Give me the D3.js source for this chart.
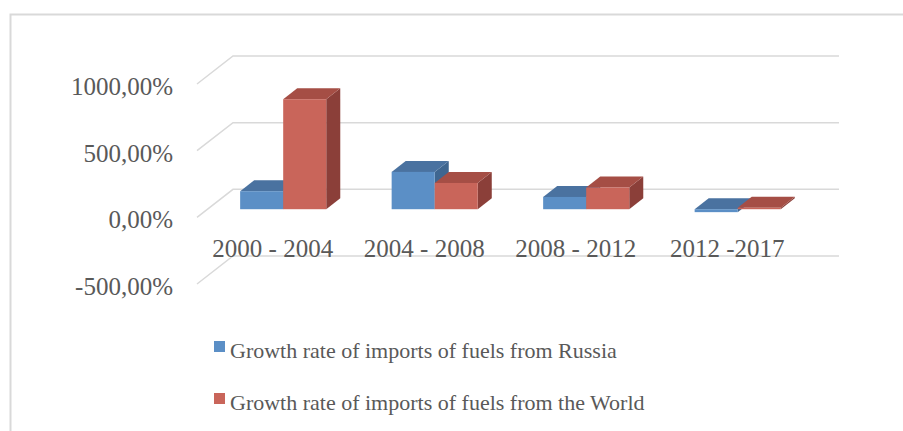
<!DOCTYPE html>
<html>
<head>
<meta charset="utf-8">
<script src="https://cdn.jsdelivr.net/npm/d3@7"></script>
<style>
  body { margin: 0; background: #fff; }
  svg text { font-family: "Liberation Serif", serif; fill: #595959; }
</style>
</head>
<body>
<script>
// data (percent)
var categories = ["2000 - 2004", "2004 - 2008", "2008 - 2012", "2012 -2017"];
var russia = [135, 280, 92, -22];
var world = [825, 197, 163, 11];
var seriesNames = [
  "Growth rate of imports of fuels from Russia",
  "Growth rate of imports of fuels from the World"
];
var yTicks = [-500, 0, 500, 1000];

var w = 903, h = 431;
var depthX = 36, depthY = -28;   // side wall depth
var barFront = 0.29, barBack = 0.68; // where the bars sit in the depth

var colors = [
  { front: "#5b8fc6", top: "#4a72a0", side: "#3f6690" },
  { front: "#c9655a", top: "#a54e45", side: "#8b3f39" }
];

var svg = d3.select("body").append("svg")
  .attr("width", w)
  .attr("height", h);

// outer frame (only top and left visible)
svg.append("path")
  .attr("d", "M10.5," + h + " L10.5,14.5 L" + w + ",14.5")
  .attr("fill", "none")
  .attr("stroke", "#d9d9d9")
  .attr("stroke-width", 2);

var x = d3.scaleBand()
  .domain(categories)
  .range([197, 803]);

var xs = d3.scaleBand()
  .domain([0, 1])
  .range([0, x.bandwidth()])
  .paddingOuter(0.76);

var y = d3.scaleLinear()
  .domain([-500, 1000])
  .range([284, 84]);

// project a point with depth d (0 = front, 1 = back wall)
function pt(px, py, d) {
  return [px + d * depthX, py + d * depthY];
}
function poly(points) {
  return "M" + points.map(function(p) { return p[0] + "," + p[1]; }).join("L") + "Z";
}

// gridlines: side wall diagonal + back wall
var grid = svg.append("g");
yTicks.forEach(function(t) {
  var a = pt(x.range()[0], y(t), 0);
  var b = pt(x.range()[0], y(t), 1);
  var c = pt(x.range()[1], y(t), 1);
  grid.append("path")
    .attr("d", "M" + a + "L" + b + "L" + c)
    .attr("fill", "none")
    .attr("stroke", "#d9d9d9")
    .attr("stroke-width", 1.5);
});

// y tick labels
svg.append("g")
  .selectAll("text")
  .data(yTicks)
  .enter()
  .append("text")
  .attr("x", 173)
  .attr("y", function(d) { return y(d) + 11; })
  .attr("text-anchor", "end")
  .attr("font-size", "25px")
  .text(function(d) {
    return d3.format(".2f")(d).replace(".", ",").replace("\u2212", "-") + "%";
  });

// bars
var values = [russia, world];
var bars = svg.append("g");
categories.forEach(function(cat, i) {
  [0, 1].forEach(function(s) {
    var v = values[s][i];
    var x0 = x(cat) + xs(s);
    var x1 = x0 + xs.bandwidth();
    var yt = y(Math.max(v, 0));
    var yb = y(Math.min(v, 0));
    var col = colors[s];
    // side
    bars.append("path")
      .attr("d", poly([pt(x1, yt, barFront), pt(x1, yt, barBack), pt(x1, yb, barBack), pt(x1, yb, barFront)]))
      .attr("fill", col.side);
    // top
    bars.append("path")
      .attr("d", poly([pt(x0, yt, barFront), pt(x0, yt, barBack), pt(x1, yt, barBack), pt(x1, yt, barFront)]))
      .attr("fill", col.top);
    // front
    var f0 = pt(x0, yt, barFront);
    bars.append("rect")
      .attr("x", f0[0])
      .attr("y", f0[1])
      .attr("width", xs.bandwidth())
      .attr("height", Math.max(yb - yt, 0.5))
      .attr("fill", col.front);
  });
});

// category labels
svg.append("g")
  .selectAll("text")
  .data(categories)
  .enter()
  .append("text")
  .attr("x", function(d) { return x(d) + x.bandwidth() / 2; })
  .attr("y", 257)
  .attr("text-anchor", "middle")
  .attr("font-size", "25px")
  .text(function(d) { return d; });

// legend
var legend = svg.append("g")
  .selectAll("g")
  .data(seriesNames)
  .enter()
  .append("g")
  .attr("transform", function(d, i) { return "translate(214," + (341 + i * 52) + ")"; });

legend.append("rect")
  .attr("width", 11)
  .attr("height", 11)
  .attr("fill", function(d, i) { return colors[i].front; });

legend.append("text")
  .attr("x", 16)
  .attr("y", 17)
  .attr("font-size", "22px")
  .text(function(d) { return d; });
</script>
</body>
</html>
